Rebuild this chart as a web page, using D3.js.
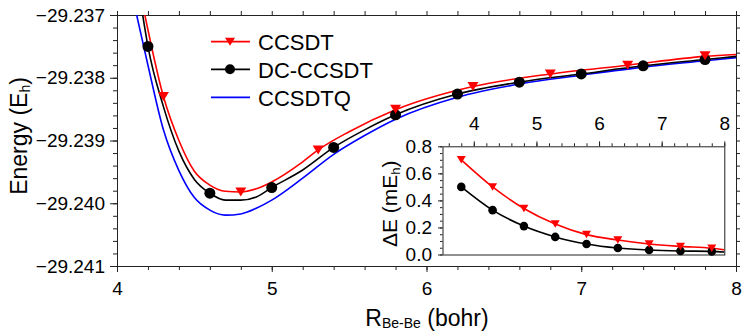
<!DOCTYPE html>
<html><head><meta charset="utf-8">
<script src="https://cdn.jsdelivr.net/npm/d3@7"></script>
<style>
body{margin:0;background:#fff}
svg{display:block}
text{font-family:"Liberation Sans",Arial,Helvetica,sans-serif;fill:#000}
</style>
</head><body>
<svg id="c" width="747" height="332"></svg>
<script>
// ---------- data ----------
const mainXTicks = [4, 5, 6, 7, 8];
const mainYTicks = [-29.241, -29.240, -29.239, -29.238, -29.237];
const insetXTicks = [4, 5, 6, 7, 8];
const insetYTicks = [0.0, 0.2, 0.4, 0.6, 0.8];
const seriesNames = ["CCSDT", "DC-CCSDT", "CCSDTQ"];

// main curves (R in bohr, energy in Eh)
const ccsdtLineX  = [4.18, 4.3, 4.4, 4.5, 4.6, 4.7, 4.8, 4.9, 5.0, 5.2, 5.3, 5.5, 5.8, 6.3, 6.8, 7.3, 7.8, 8.0];
const ccsdtLineE  = [-29.23700, -29.23830, -29.23900, -29.23949, -29.23971, -29.23981, -29.23982, -29.23977, -29.23966,
                     -29.23934, -29.23915, -29.23886, -29.23851, -29.23814, -29.23794, -29.23780, -29.23766, -29.23763];
const dcLineX     = [4.166, 4.2, 4.3, 4.4, 4.5, 4.6, 4.7, 4.8, 4.9, 5.0, 5.2, 5.4, 5.6, 5.8, 6.2, 6.6, 7.0, 7.4, 7.8, 8.0];
const dcLineE     = [-29.23700, -29.23750, -29.23846, -29.23917, -29.23962, -29.23984, -29.23995, -29.23995, -29.23990,
                     -29.23975, -29.23947, -29.23911, -29.23883, -29.23859, -29.23826, -29.23807, -29.23794, -29.23781,
                     -29.23771, -29.23766];
const qLineX      = [4.127, 4.2, 4.3, 4.4, 4.5, 4.6, 4.7, 4.8, 4.9, 5.0, 5.2, 5.4, 5.6, 5.8, 6.2, 6.6, 7.0, 7.4, 7.8, 8.0];
const qLineE      = [-29.23700, -29.23780, -29.23883, -29.23948, -29.23991, -29.24011, -29.24019, -29.24017, -29.24008,
                     -29.23995, -29.23960, -29.23922, -29.23892, -29.23866, -29.23831, -29.23810, -29.23796, -29.23783,
                     -29.23773, -29.23768];

// main markers
const ccsdtMarkX = [4.3, 4.8, 5.3, 5.8, 6.3, 6.8, 7.3, 7.8];
const ccsdtMarkE = [-29.23830, -29.23982, -29.23915, -29.23850, -29.23814, -29.23794, -29.23780, -29.23765];
const dcMarkX    = [4.2, 4.6, 5.0, 5.4, 5.8, 6.2, 6.6, 7.0, 7.4, 7.8];
const dcMarkE    = [-29.23750, -29.23984, -29.23975, -29.23911, -29.23859, -29.23826, -29.23807, -29.23794, -29.23781, -29.23771];

// inset: Delta E (mEh)
const insetX       = [3.8, 4.3, 4.8, 5.3, 5.8, 6.3, 6.8, 7.3, 7.8];
const insetCcsdt   = [0.70, 0.50, 0.34, 0.225, 0.147, 0.107, 0.078, 0.060, 0.046];
const insetDc      = [0.50, 0.328, 0.21, 0.13, 0.078, 0.048, 0.033, 0.026, 0.023];
const insetEndX    = 8.0;
const insetCcsdtEnd = 0.035;
const insetDcEnd    = 0.018;

// ---------- drawing ----------
const svg = d3.select("#c");
const FONT = '"Liberation Sans",Arial,Helvetica,sans-serif';
const AX = "#222";

const L = 117, R = 736, T = 15, B = 266;
const x = d3.scaleLinear().domain([4, 8]).range([L, R]);
const y = d3.scaleLinear().domain([-29.241, -29.237]).range([B, T]);

svg.append("defs").append("clipPath").attr("id", "clipMain")
  .append("rect").attr("x", L).attr("y", T).attr("width", R - L).attr("height", B - T);

function styleAxis(g, fs) {
  g.attr("font-family", FONT).attr("font-size", fs);
  g.select(".domain").remove();
  g.selectAll(".tick line").attr("stroke", AX);
  g.selectAll(".tick text").attr("fill", "#000");
}

const minorX = d3.range(0, 21).map(i => 4 + i * 0.2);
const minorY = d3.range(0, 21).map(i => -29.241 + i * 0.0002);

// bottom
svg.append("g").attr("transform", `translate(0,${B})`)
  .call(d3.axisBottom(x).tickValues(minorX).tickSize(4).tickFormat("")).call(g => styleAxis(g, 19));
svg.append("g").attr("transform", `translate(0,${B})`)
  .call(d3.axisBottom(x).tickValues(mainXTicks).tickSize(6).tickPadding(10).tickFormat(d3.format("d")))
  .call(g => styleAxis(g, 19));
// top
svg.append("g").attr("transform", `translate(0,${T})`)
  .call(d3.axisTop(x).tickValues(minorX).tickSize(4).tickFormat("")).call(g => styleAxis(g, 19));
// left
svg.append("g").attr("transform", `translate(${L},0)`)
  .call(d3.axisLeft(y).tickValues(minorY).tickSize(4).tickFormat("")).call(g => styleAxis(g, 19));
svg.append("g").attr("transform", `translate(${L},0)`)
  .call(d3.axisLeft(y).tickValues(mainYTicks).tickSize(7).tickPadding(5).tickFormat(d3.format(".3f")))
  .call(g => styleAxis(g, 19));
// right
svg.append("g").attr("transform", `translate(${R},0)`)
  .call(d3.axisRight(y).tickValues(minorY).tickSize(4).tickFormat("")).call(g => styleAxis(g, 19));

// frame
svg.append("rect").attr("x", L + 0.5).attr("y", T + 0.5).attr("width", R - L).attr("height", B - T)
  .attr("fill", "none").attr("stroke", AX).attr("stroke-width", 1);

// lines
const plot = svg.append("g").attr("clip-path", "url(#clipMain)");
function mainLine(xs, es, color) {
  const pts = xs.map((v, i) => [x(v), y(es[i])]);
  plot.append("path").attr("d", d3.line().curve(d3.curveMonotoneX)(pts))
    .attr("fill", "none").attr("stroke", color).attr("stroke-width", 1.6);
}
mainLine(qLineX, qLineE, "#0000ff");
mainLine(dcLineX, dcLineE, "#000000");
mainLine(ccsdtLineX, ccsdtLineE, "#ff0000");

function triPath(cx, cy, w, h) {
  return `M${cx - w / 2},${cy - h / 2}L${cx + w / 2},${cy - h / 2}L${cx},${cy + h / 2}Z`;
}
// markers
dcMarkX.forEach((v, i) => {
  svg.append("circle").attr("cx", x(v)).attr("cy", y(dcMarkE[i])).attr("r", 5.5).attr("fill", "#000");
});
ccsdtMarkX.forEach((v, i) => {
  svg.append("path").attr("d", triPath(x(v), y(ccsdtMarkE[i]), 11, 9)).attr("fill", "#ff0000");
});

// legend
const legY = [41.7, 69.3, 97.3];
const legColors = ["#ff0000", "#000000", "#0000ff"];
seriesNames.forEach((name, i) => {
  svg.append("line").attr("x1", 211).attr("x2", 250).attr("y1", legY[i]).attr("y2", legY[i])
    .attr("stroke", legColors[i]).attr("stroke-width", 1.8);
  if (i === 0) svg.append("path").attr("d", triPath(230, legY[i], 10, 8)).attr("fill", "#ff0000");
  if (i === 1) svg.append("circle").attr("cx", 230).attr("cy", legY[i]).attr("r", 5).attr("fill", "#000");
  svg.append("text").attr("x", 258).attr("y", legY[i] + 8.2).attr("font-size", 22).text(name);
});

// axis titles
const xt = svg.append("text").attr("x", 427).attr("y", 326).attr("text-anchor", "middle").attr("font-size", 23);
xt.append("tspan").text("R");
xt.append("tspan").attr("font-size", 14).attr("dy", 2).text("Be-Be");
xt.append("tspan").attr("dy", -2).text(" (bohr)");

const yt = svg.append("text").attr("transform", "translate(27,136) rotate(-90)")
  .attr("text-anchor", "middle").attr("font-size", 23);
yt.append("tspan").text("Energy (E");
yt.append("tspan").attr("font-size", 14).attr("dy", 3).text("h");
yt.append("tspan").attr("dy", -3).text(")");

// ---------- inset ----------
const iL = 442.5, iR = 724.3, iT = 146.3, iB = 254.5;
const xi = d3.scaleLinear().domain([3.5, 8]).range([iL, iR]);
const yi = d3.scaleLinear().domain([0, 0.8]).range([iB, iT]);
const inset = svg.append("g");
inset.append("rect").attr("x", iL).attr("y", iT).attr("width", iR - iL).attr("height", iB - iT)
  .attr("fill", "#fff").attr("stroke", "none");

const iMinorX = d3.range(0, 23).map(i => 3.6 + i * 0.2);
const iMinorY = d3.range(0, 17).map(i => i * 0.05);
inset.append("g").attr("transform", `translate(0,${iT})`)
  .call(d3.axisTop(xi).tickValues(iMinorX).tickSize(3).tickFormat("")).call(g => styleAxis(g, 19));
inset.append("g").attr("transform", `translate(0,${iT})`)
  .call(d3.axisTop(xi).tickValues(insetXTicks).tickSize(5).tickPadding(11).tickFormat(d3.format("d")))
  .call(g => styleAxis(g, 19));
inset.append("g").attr("transform", `translate(${iL},0)`)
  .call(d3.axisLeft(yi).tickValues(iMinorY).tickSize(2.5).tickFormat("")).call(g => styleAxis(g, 19));
inset.append("g").attr("transform", `translate(${iL},0)`)
  .call(d3.axisLeft(yi).tickValues(insetYTicks).tickSize(4.5).tickPadding(6).tickFormat(d3.format(".1f")))
  .call(g => styleAxis(g, 19));

function insetLine(vals, endVal, color) {
  const pts = insetX.map((v, i) => [xi(v), yi(vals[i])]).concat([[xi(insetEndX), yi(endVal)]]);
  inset.append("path").attr("d", d3.line().curve(d3.curveMonotoneX)(pts))
    .attr("fill", "none").attr("stroke", color).attr("stroke-width", 1.6);
}
insetLine(insetDc, insetDcEnd, "#000000");
insetLine(insetCcsdt, insetCcsdtEnd, "#ff0000");

inset.append("rect").attr("x", iL + 0.5).attr("y", iT + 0.5).attr("width", iR - iL).attr("height", iB - iT)
  .attr("fill", "none").attr("stroke", AX).attr("stroke-width", 1);

insetX.forEach((v, i) => {
  inset.append("circle").attr("cx", xi(v)).attr("cy", yi(insetDc[i])).attr("r", 4.3).attr("fill", "#000");
});
insetX.forEach((v, i) => {
  inset.append("path").attr("d", triPath(xi(v), yi(insetCcsdt[i]), 9, 7.5)).attr("fill", "#ff0000");
});

const it = svg.append("text").attr("transform", "translate(397,247) rotate(-90)")
  .attr("text-anchor", "start").attr("font-size", 21);
it.append("tspan").text("ΔE (mE");
it.append("tspan").attr("font-size", 13).attr("dy", 3).text("h");
it.append("tspan").attr("dy", -3).text(")");
</script>
</body></html>
